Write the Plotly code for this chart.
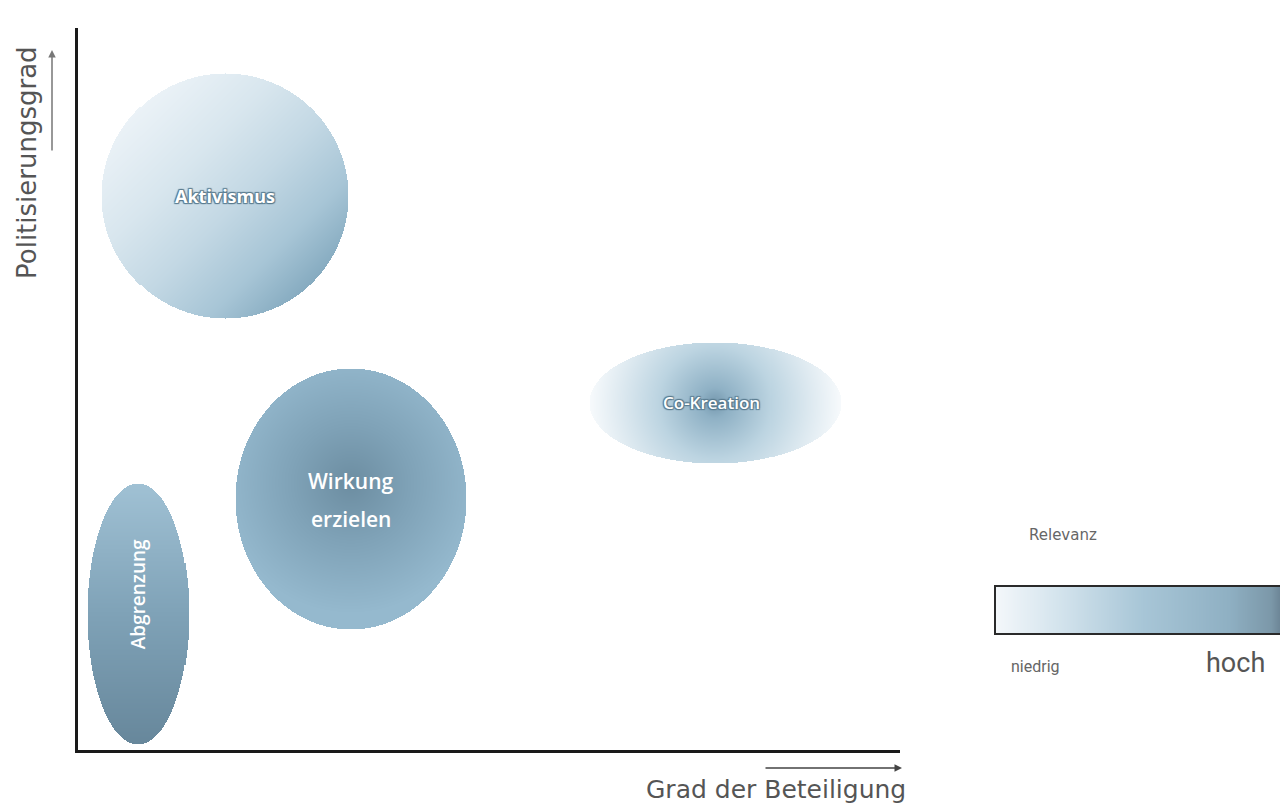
import numpy as np
import plotly.graph_objects as go

# ---------------- data ----------------
categories = ["Aktivismus", "Co-Kreation", "Wirkung erzielen", "Abgrenzung"]
beteiligung = [17.9, 77.5, 33.2, 7.3]        # x centre (Grad der Beteiligung, 0-100)
politisierung = [76.7, 48.1, 34.8, 18.8]     # y centre (Politisierungsgrad, 0-100)
spread_x = [15.0, 15.3, 14.1, 6.2]           # half width
spread_y = [17.0, 8.4, 18.1, 18.1]           # half height
relevanz = ["niedrig", "mittel", "hoch", "hoch"]

legend_title = "Relevanz"
legend_low, legend_high = "niedrig", "hoch"
x_title = "Grad der Beteiligung"
y_title = "Politisierungsgrad"

# ---------------- styling ----------------
W, H = 1288, 805
OFF = 8                                        # page body margin
PX0, PX1, PY0, PY1 = 78, 900, 28, 750          # plot area in window px
PXX = (PX1 - PX0) / 100.0
PXY = (PY1 - PY0) / 100.0


def px(xp):
    return (xp - OFF) / W


def py(yp):
    return 1 - (yp - OFF) / H


styles = {
    "Aktivismus": dict(mode="diag", cs=[[0, "#ebf2f7"], [0.3, "#d8e6ee"], [0.55, "#c3d8e4"],
                                        [0.8, "#a7c5d6"], [1, "#86abc0"]]),
    "Co-Kreation": dict(mode="radial", cs=[[0, "#7598ae"], [0.12, "#8fb1c5"], [0.45, "#bcd4e1"],
                                           [0.75, "#dde9f0"], [1, "#f7fafc"]]),
    "Wirkung erzielen": dict(mode="radial", cs=[[0, "#6c8da1"], [0.45, "#7fa2b7"], [1, "#95b9ce"]]),
    "Abgrenzung": dict(mode="vertical", cs=[[0, "#67879b"], [0.5, "#7fa2b7"], [1, "#a0c1d4"]]),
}

fig = go.Figure()

for name, cx, cy, rx, ry in zip(categories, beteiligung, politisierung, spread_x, spread_y):
    st = styles[name]
    nx = int(rx * 2 * PXX) + 1
    ny = int(ry * 2 * PXY) + 1
    xs = np.linspace(cx - rx, cx + rx, nx)
    ys = np.linspace(cy - ry, cy + ry, ny)
    X, Y = np.meshgrid(xs, ys)
    u = (X - cx) / rx
    v = (Y - cy) / ry
    inside = u ** 2 + v ** 2 <= 1.0
    dxp = (X - cx) * PXX
    dyp = (Y - cy) * PXY
    rmax = max(rx * PXX, ry * PXY)
    if st["mode"] == "diag":
        t = ((dxp - dyp) / (np.sqrt(2) * rmax) + 1) / 2
    elif st["mode"] == "radial":
        off = 0.12 * ry * PXY if name == "Wirkung erzielen" else 0.0
        t = np.sqrt(dxp ** 2 + (dyp - off) ** 2) / rmax
    else:
        t = (v + 1) / 2
    t = np.clip(t, 0, 1)
    z = np.where(inside, t, np.nan)
    fig.add_trace(go.Heatmap(
        x=xs, y=ys, z=z, colorscale=st["cs"], zmin=0, zmax=1,
        showscale=False, hoverinfo="skip", zsmooth=False,
        xaxis="x", yaxis="y",
    ))

# legend gradient bar
lg = np.linspace(0, 1, 300)
fig.add_trace(go.Heatmap(
    x=lg, y=[0, 1], z=[lg, lg],
    colorscale=[[0, "#f3f7fa"], [0.2, "#d6e5ee"], [0.5, "#a8c6d7"], [0.8, "#8fb0c3"],
                [0.95, "#7b97a8"], [1, "#62798a"]],
    zmin=0, zmax=1, showscale=False, hoverinfo="skip", zsmooth="best",
    xaxis="x2", yaxis="y2",
))

outline = ("1px 1px 1px #587a8e, -1px -1px 1px #587a8e, "
           "1px -1px 1px #587a8e, -1px 1px 1px #587a8e")
lab = dict(zip(categories, zip(beteiligung, politisierung)))
ann = [
    dict(x=lab["Aktivismus"][0], y=lab["Aktivismus"][1], text="<b>Aktivismus</b>",
         font=dict(family="Open Sans", size=18, color="white", shadow=outline)),
    dict(x=lab["Co-Kreation"][0], y=lab["Co-Kreation"][1], text="Co-Kreation", xshift=-4,
         font=dict(family="Open Sans", size=17, weight=600, color="white", shadow=outline)),
    dict(x=lab["Wirkung erzielen"][0], y=lab["Wirkung erzielen"][1], text="Wirkung", yshift=18,
         font=dict(family="Open Sans", size=21, weight=600, color="white")),
    dict(x=lab["Wirkung erzielen"][0], y=lab["Wirkung erzielen"][1], text="erzielen", yshift=-20,
         font=dict(family="Open Sans", size=21, weight=600, color="white")),
    dict(x=lab["Abgrenzung"][0], y=lab["Abgrenzung"][1], text="Abgrenzung", textangle=-90,
         yshift=20, font=dict(family="Open Sans", size=19, weight=600, color="white")),
]
for a in ann:
    a.update(xref="x", yref="y", showarrow=False, xanchor="center", yanchor="middle")

paper = dict(xref="paper", yref="paper")
extra = [
    dict(x=px(27), y=py(163), text=y_title, textangle=-90, showarrow=False,
         font=dict(family="DejaVu Sans", size=26, color="#555")),
    dict(x=px(776), y=py(789), text=x_title, showarrow=False,
         font=dict(family="DejaVu Sans", size=25, color="#555")),
    # arrows
    dict(x=px(52), y=py(50), ax=0, ay=102, text="", showarrow=True, arrowhead=2,
         arrowsize=1, arrowwidth=1.5, arrowcolor="#777"),
    dict(x=px(902), y=py(768), ax=-138, ay=0, text="", showarrow=True, arrowhead=2,
         arrowsize=1, arrowwidth=1.5, arrowcolor="#444"),
    # legend texts
    dict(x=px(1063), y=py(535), text=legend_title, showarrow=False,
         font=dict(family="DejaVu Sans", size=15, color="#666")),
    dict(x=px(1035), y=py(666), text=legend_low, showarrow=False,
         font=dict(family="Roboto", size=16, color="#666")),
    dict(x=px(1235), y=py(663), text=legend_high, showarrow=False,
         font=dict(family="Roboto", size=27, color="#555")),
]
for a in extra:
    a.update(paper, xanchor="center", yanchor="middle")
ann += extra

fig.update_layout(
    width=W, height=H, margin=dict(l=0, r=0, t=0, b=0),
    paper_bgcolor="white", plot_bgcolor="white", showlegend=False,
    xaxis=dict(domain=[px(PX0), px(PX1)], range=[0, 100], showgrid=False, zeroline=False,
               showticklabels=False, ticks="", showline=True, linecolor="#1a1a1a", linewidth=3,
               fixedrange=True),
    yaxis=dict(domain=[py(PY1), py(PY0)], range=[0, 100], showgrid=False, zeroline=False,
               showticklabels=False, ticks="", showline=True, linecolor="#1a1a1a", linewidth=3,
               fixedrange=True),
    xaxis2=dict(domain=[px(996), px(1286)], range=[0, 1], showgrid=False, zeroline=False,
                showticklabels=False, ticks="", showline=True, mirror=True, linecolor="#2a2a2a",
                linewidth=2, anchor="y2", fixedrange=True),
    yaxis2=dict(domain=[py(633), py(587)], range=[0, 1], showgrid=False, zeroline=False,
                showticklabels=False, ticks="", showline=True, mirror=True, linecolor="#2a2a2a",
                linewidth=2, anchor="x2", fixedrange=True),
    annotations=ann,
)

fig.write_html("out.html")
